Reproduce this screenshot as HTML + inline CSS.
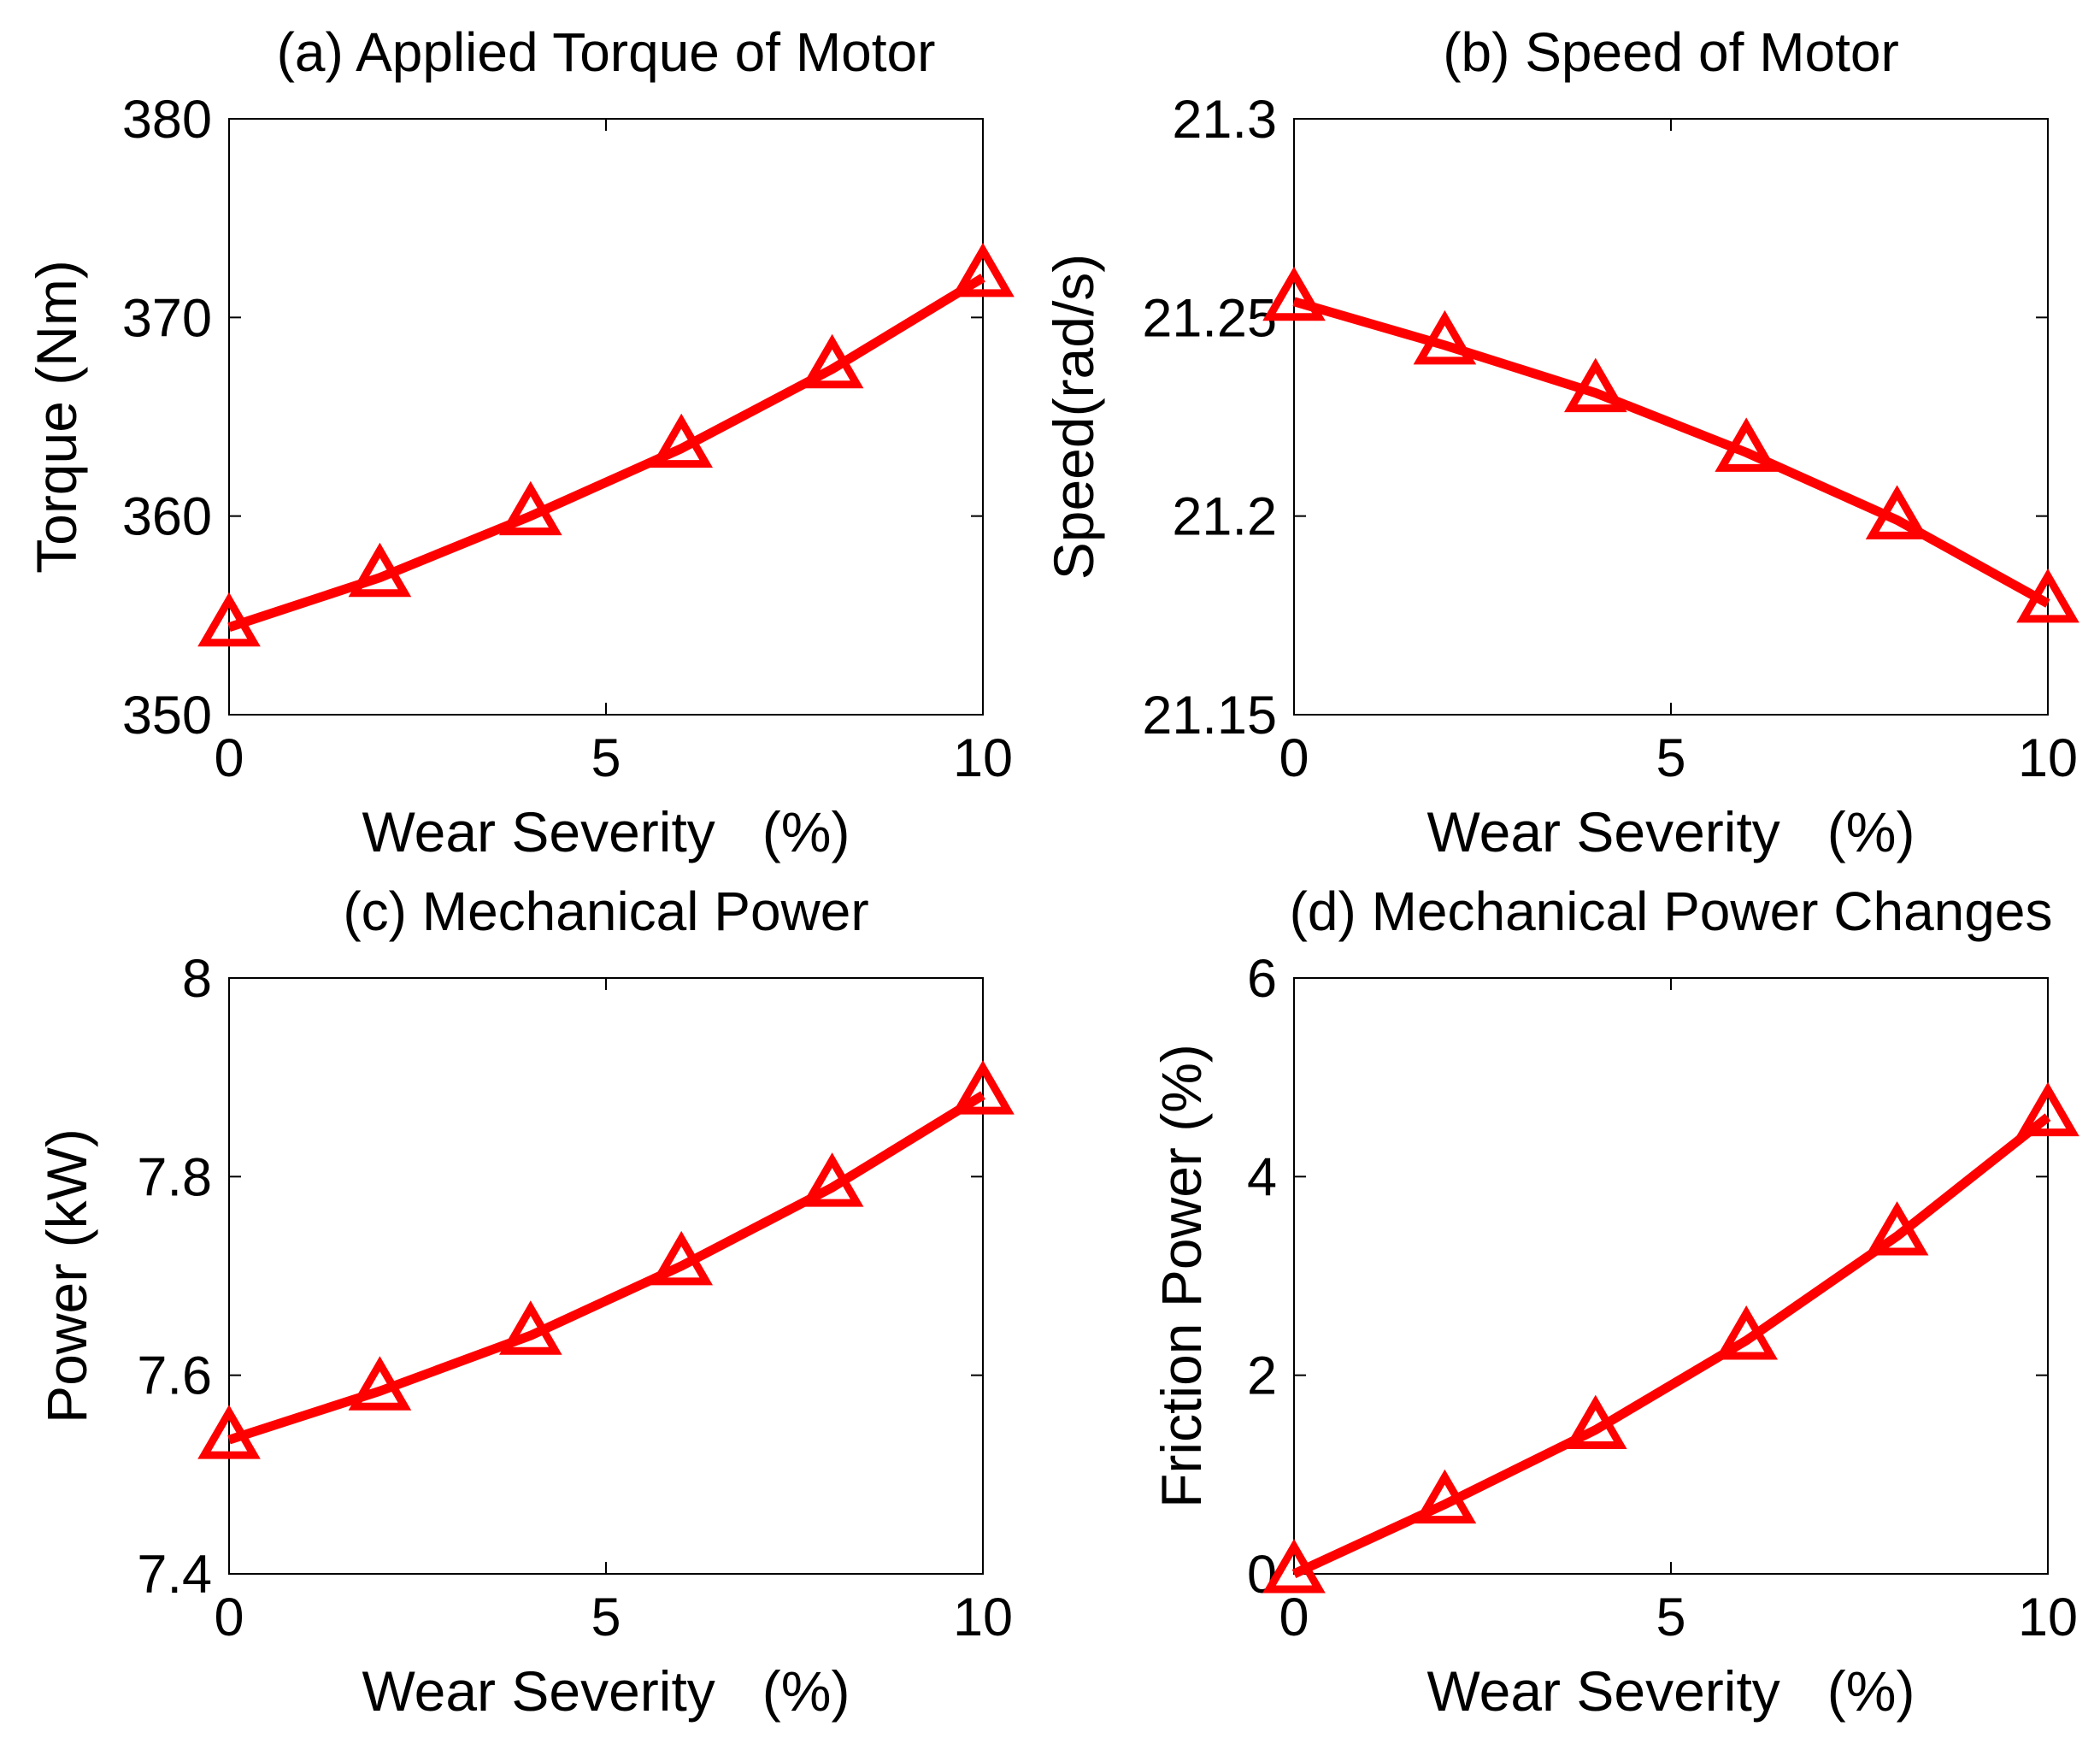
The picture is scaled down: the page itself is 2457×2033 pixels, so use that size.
<!DOCTYPE html>
<html><head><meta charset="utf-8"><style>
body{margin:0;background:#fff;}
svg{display:block;font-family:"Liberation Sans",Arial,sans-serif;}
</style></head><body>
<svg id="c" width="2457" height="2033" viewBox="0 0 2457 2033" xmlns="http://www.w3.org/2000/svg"></svg>
<script>
const xCats=[0,2,4,6,8,10];
const xTicks=[0,5,10];
const torqueVals=[354.4,356.9,360.0,363.4,367.4,372.0];
const torqueTicks=[350,360,370,380];
const speedVals=[21.254,21.243,21.231,21.216,21.199,21.178];
const speedTicks=[21.15,21.2,21.25,21.3];
const speedTickLabels=["21.15","21.2","21.25","21.3"];
const powerVals=[7.535,7.584,7.640,7.710,7.789,7.882];
const powerTicks=[7.4,7.6,7.8,8];
const powerTickLabels=["7.4","7.6","7.8","8"];
const frictionVals=[0,0.7,1.45,2.35,3.4,4.6];
const frictionTicks=[0,2,4,6];
const NS="http://www.w3.org/2000/svg";
const svg=document.getElementById('c');
function mk(tag,attrs,parent){const e=document.createElementNS(NS,tag);for(const k in attrs)e.setAttribute(k,attrs[k]);(parent||svg).appendChild(e);return e;}
const panels=[
 {id:'a',L:268,R:1150,T:139,B:836,title:'(a) Applied Torque of Motor',yl:'Torque (Nm)',ylx:66,vals:torqueVals,ticks:torqueTicks,labels:torqueTicks.map(String)},
 {id:'b',L:1514,R:2396,T:139,B:836,title:'(b) Speed of Motor',yl:'Speed(rad/s)',ylx:1256,vals:speedVals,ticks:speedTicks,labels:speedTickLabels},
 {id:'c',L:268,R:1150,T:1144,B:1841,title:'(c) Mechanical Power',yl:'Power (kW)',ylx:78,vals:powerVals,ticks:powerTicks,labels:powerTickLabels},
 {id:'d',L:1514,R:2396,T:1144,B:1841,title:'(d) Mechanical Power Changes',yl:'Friction Power (%)',ylx:1382,vals:frictionVals,ticks:frictionTicks,labels:frictionTicks.map(String)}
];
panels.forEach(p=>{
 const g=mk('g',{});
 
 
 const y0=p.ticks[0],y1=p.ticks[p.ticks.length-1];
 const xs=v=>p.L+(v-0)/(10-0)*(p.R-p.L);
 const ys=v=>p.B-(v-y0)/(y1-y0)*(p.B-p.T);
 const box=mk('rect',{x:p.L,y:p.T,width:p.R-p.L,height:p.B-p.T,fill:'none',stroke:'#000','stroke-width':2},g);
 
 
 xTicks.forEach(t=>{
  const x=xs(t);
  mk('line',{x1:x,x2:x,y1:p.B,y2:p.B-14,stroke:'#000','stroke-width':2},g);
  mk('line',{x1:x,x2:x,y1:p.T,y2:p.T+14,stroke:'#000','stroke-width':2},g);
  const tx=mk('text',{x:x,y:p.B+72,'text-anchor':'middle','font-size':63},g);
  tx.textContent=t;
  
  
 });
 p.ticks.forEach((t,i)=>{
  const y=ys(t);
  mk('line',{x1:p.L,x2:p.L+14,y1:y,y2:y,stroke:'#000','stroke-width':2},g);
  mk('line',{x1:p.R,x2:p.R-14,y1:y,y2:y,stroke:'#000','stroke-width':2},g);
  const tx=mk('text',{x:p.L-20,y:y+22,'text-anchor':'end','font-size':63},g);
  tx.textContent=p.labels[i];
  
  
 });
 const ti=mk('text',{x:(p.L+p.R)/2,y:p.T-56,'text-anchor':'middle','font-size':64},g);
 ti.textContent=p.title;
 
 
 const xl=mk('text',{x:(p.L+p.R)/2,y:p.B+160,'text-anchor':'middle','font-size':66},g);
 xl.textContent='Wear Severity   (%)';
 xl.style.whiteSpace='pre';
 
 
 const yc=(p.T+p.B)/2;
 const yl=mk('text',{x:p.ylx,y:yc,'text-anchor':'middle','font-size':66,transform:`rotate(-90 ${p.ylx} ${yc})`,'dominant-baseline':'central'},g);
 yl.textContent=p.yl;
 
 
 const pts=xCats.map((x,i)=>xs(x)+','+ys(p.vals[i])).join(' ');
 const line=mk('polyline',{points:pts,fill:'none',stroke:'#ff0000','stroke-width':11,'stroke-linejoin':'round'},g);
 
 
 xCats.forEach((x,i)=>{
  const cx=xs(x),cy=ys(p.vals[i]);
  const m=mk('polygon',{points:`${cx},${cy-32} ${cx-29},${cy+18} ${cx+29},${cy+18}`,fill:'none',stroke:'#ff0000','stroke-width':9},g);
  
  
 });
});
</script>
</body></html>
